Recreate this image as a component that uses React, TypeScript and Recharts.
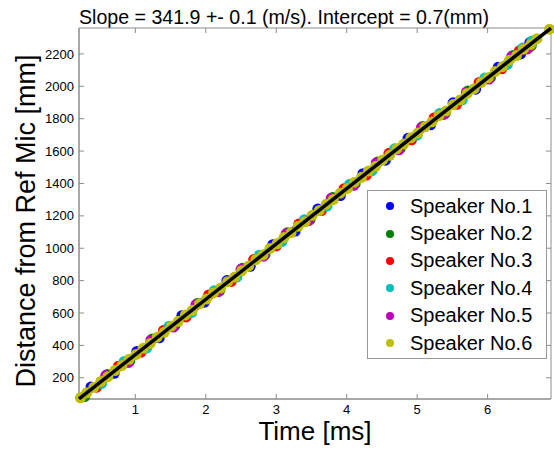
import { ScatterChart, Scatter, XAxis, YAxis, ReferenceArea, Legend } from 'recharts';

const FONT = '"Liberation Sans", Arial, Helvetica, sans-serif';
const AXIS_GRAY = '#8c8c8c';

// plot frame in pixels (used for the inward MATLAB-style ticks)
const PLOT_TOP = 28;
const PLOT_BOTTOM = 399;
const PLOT_LEFT = 79;
const PLOT_RIGHT = 551;

const speakerNames = ['Speaker No.1', 'Speaker No.2', 'Speaker No.3', 'Speaker No.4', 'Speaker No.5', 'Speaker No.6'];
const speakerColors = ['#0000ff', '#008000', '#ff0000', '#00bfbf', '#bf00bf', '#bfbf00'];

// Time [ms] / Distance [mm] per speaker
const s1Time = [0.37, 0.70, 1.02, 1.34, 1.66, 1.98, 2.30, 2.63, 2.95, 3.27, 3.59, 3.91, 4.23, 4.55, 4.87, 5.19, 5.51, 5.83, 6.15, 6.47, 6.60];
const s1Dist = [143, 228, 362, 447, 583, 667, 800, 888, 1022, 1106, 1242, 1325, 1460, 1544, 1679, 1762, 1898, 1982, 2117, 2200, 2270];

const s2Time = [0.28, 0.60, 0.92, 1.24, 1.56, 1.88, 2.20, 2.52, 2.84, 3.16, 3.48, 3.80, 4.12, 4.44, 4.76, 5.08, 5.40, 5.72, 6.04, 6.36, 6.62];
const s2Dist = [84, 220, 303, 440, 521, 658, 740, 877, 960, 1096, 1178, 1314, 1397, 1533, 1616, 1752, 1834, 1971, 2053, 2190, 2252];

const s3Time = [0.45, 0.76, 1.08, 1.40, 1.72, 2.04, 2.36, 2.68, 3.00, 3.32, 3.64, 3.96, 4.28, 4.60, 4.92, 5.24, 5.56, 5.88, 6.20, 6.45, 6.58];
const s3Dist = [142, 272, 358, 492, 576, 711, 795, 930, 1014, 1149, 1233, 1367, 1452, 1586, 1670, 1805, 1889, 2024, 2108, 2219, 2238];

const s4Time = [0.52, 0.84, 1.16, 1.48, 1.80, 2.12, 2.44, 2.76, 3.08, 3.40, 3.72, 4.04, 4.36, 4.68, 5.00, 5.32, 5.64, 5.96, 6.28, 6.50, 6.63];
const s4Dist = [165, 300, 384, 519, 603, 738, 822, 957, 1041, 1176, 1260, 1395, 1479, 1614, 1698, 1832, 1916, 2051, 2135, 2236, 2280];

const s5Time = [0.58, 0.90, 1.22, 1.54, 1.86, 2.18, 2.50, 2.82, 3.14, 3.46, 3.78, 4.10, 4.42, 4.74, 5.06, 5.38, 5.70, 6.02, 6.34, 6.56];
const s5Dist = [214, 294, 432, 513, 651, 732, 870, 951, 1089, 1170, 1308, 1389, 1527, 1608, 1745, 1826, 1964, 2045, 2183, 2230];

const s6Time = [0.22, 0.31, 0.41, 0.51, 0.61, 0.71, 0.81, 0.91, 1.01, 1.11, 1.21, 1.31, 1.41, 1.51, 1.61, 1.71,
  1.81, 1.91, 2.01, 2.11, 2.21, 2.31, 2.41, 2.51, 2.61, 2.71, 2.81, 2.91, 3.01, 3.11, 3.21, 3.31,
  3.41, 3.51, 3.61, 3.71, 3.81, 3.91, 4.01, 4.11, 4.21, 4.31, 4.41, 4.51, 4.61, 4.71, 4.81, 4.91,
  5.01, 5.11, 5.21, 5.31, 5.41, 5.51, 5.61, 5.71, 5.81, 5.91, 6.01, 6.11, 6.21, 6.31, 6.41, 6.51,
  6.61, 6.70, 6.88];
const s6Dist = [76, 107, 141, 177, 207, 245, 276, 314, 344, 382, 412, 451, 481, 519, 549, 588,
  617, 656, 686, 724, 754, 793, 822, 861, 891, 930, 959, 998, 1027, 1066, 1096, 1135,
  1164, 1203, 1233, 1272, 1301, 1340, 1369, 1408, 1438, 1477, 1506, 1545, 1574, 1614, 1643, 1682,
  1711, 1750, 1780, 1819, 1848, 1887, 1916, 1956, 1985, 2024, 2053, 2092, 2121, 2161, 2190, 2229,
  2258, 2294, 2353];

const speakerTimes = [s1Time, s2Time, s3Time, s4Time, s5Time, s6Time];
const speakerDists = [s1Dist, s2Dist, s3Dist, s4Dist, s5Dist, s6Dist];

// least squares fit end points (slope 341.9 m/s, intercept 0.7 mm)
const fitTime = [0.2, 6.9];
const fitDist = [69.1, 2359.8];

const xDomain = [0.2, 6.9];
const yDomain = [69, 2360];
const xTicks = [1, 2, 3, 4, 5, 6];
const yTicks = [200, 400, 600, 800, 1000, 1200, 1400, 1600, 1800, 2000, 2200];

const series = speakerNames.map((name, i) => ({
  name,
  color: speakerColors[i],
  points: speakerTimes[i].map((t, j) => ({ t, d: speakerDists[i][j] })),
}));

const fitPoints = fitTime.map((t, i) => ({ t, d: fitDist[i] }));

function XTick({ x, y, payload }: any) {
  return (
    <g>
      <line x1={x} x2={x} y1={PLOT_BOTTOM} y2={PLOT_BOTTOM - 5} stroke={AXIS_GRAY} />
      <line x1={x} x2={x} y1={PLOT_TOP} y2={PLOT_TOP + 5} stroke={AXIS_GRAY} />
      <text x={x} y={y} dy="0.71em" textAnchor="middle" fontSize={13} fontFamily={FONT} fill="#000">
        {payload.value}
      </text>
    </g>
  );
}

function YTick({ x, y, payload }: any) {
  return (
    <g>
      <line x1={PLOT_LEFT} x2={PLOT_LEFT + 5} y1={y} y2={y} stroke={AXIS_GRAY} />
      <line x1={PLOT_RIGHT} x2={PLOT_RIGHT - 5} y1={y} y2={y} stroke={AXIS_GRAY} />
      <text x={x} y={y} dy="0.355em" textAnchor="end" fontSize={13} fontFamily={FONT} fill="#000">
        {payload.value}
      </text>
    </g>
  );
}

function SpeakerLegend() {
  return (
    <div
      style={{
        width: 180,
        height: 169,
        boxSizing: 'border-box',
        border: '1px solid #999',
        background: '#fff',
        paddingTop: 1.5,
      }}
    >
      {series.map((s) => (
        <div
          key={s.name}
          style={{ display: 'flex', alignItems: 'center', height: 27.4, fontFamily: FONT, fontSize: 20, color: '#000' }}
        >
          <span
            style={{
              display: 'inline-block',
              width: 8,
              height: 8,
              borderRadius: '50%',
              background: s.color,
              marginLeft: 18,
              marginRight: 16,
            }}
          />
          {s.name}
        </div>
      ))}
    </div>
  );
}

export default function App() {
  return (
    <div style={{ position: 'absolute', left: 0, top: 0, background: '#fff' }}>
      <ScatterChart width={554} height={449} margin={{ top: PLOT_TOP, right: 554 - PLOT_RIGHT, bottom: 0, left: 0 }}>
        <XAxis
          type="number"
          dataKey="t"
          domain={xDomain}
          ticks={xTicks}
          height={449 - PLOT_BOTTOM}
          tickLine={false}
          tickSize={0}
          tickMargin={6}
          tick={<XTick />}
          stroke={AXIS_GRAY}
        />
        <YAxis
          type="number"
          dataKey="d"
          domain={yDomain}
          ticks={yTicks}
          width={PLOT_LEFT}
          tickLine={false}
          tickSize={0}
          tickMargin={5}
          tick={<YTick />}
          stroke={AXIS_GRAY}
        />
        <ReferenceArea
          x1={xDomain[0]}
          x2={xDomain[1]}
          y1={yDomain[0]}
          y2={yDomain[1]}
          fill="none"
          fillOpacity={0}
          stroke={AXIS_GRAY}
          strokeWidth={1}
        />
        {series.map((s) => (
          <Scatter
            key={s.name}
            name={s.name}
            data={s.points}
            fill={s.color}
            isAnimationActive={false}
            shape={(p: any) => <circle cx={p.cx} cy={p.cy} r={5.5} fill={s.color} />}
          />
        ))}
        <Scatter
          name="fit"
          data={fitPoints}
          legendType="none"
          line={{ stroke: '#000', strokeWidth: 3.5 }}
          shape={() => <g />}
          isAnimationActive={false}
        />
        <Legend
          layout="vertical"
          align="center"
          verticalAlign="middle"
          content={<SpeakerLegend />}
          wrapperStyle={{ left: 367, top: 190, width: 180, height: 169 }}
        />
        <text x={79} y={24} fontSize={19.6} fontFamily={FONT} fill="#000">
          Slope = 341.9 +- 0.1 (m/s). Intercept = 0.7(mm)
        </text>
        <text x={315} y={440} textAnchor="middle" fontSize={26} fontFamily={FONT} fill="#000">
          Time [ms]
        </text>
        <text
          x={35}
          y={221}
          textAnchor="middle"
          transform="rotate(-90 35 221)"
          fontSize={27}
          fontFamily={FONT}
          fill="#000"
        >
          Distance from Ref Mic [mm]
        </text>
      </ScatterChart>
    </div>
  );
}
